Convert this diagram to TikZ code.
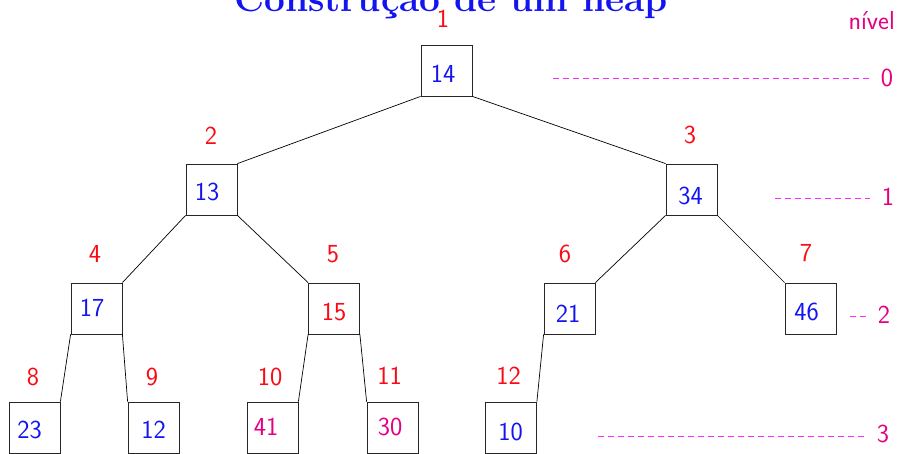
\documentclass[tikz,border=0pt]{standalone}
\usepackage{fontspec}
\definecolor{tblue}{RGB}{20,20,240}
\definecolor{tred}{RGB}{250,10,20}
\definecolor{tpink}{RGB}{228,0,128}
\definecolor{tdash}{RGB}{255,40,255}
\tikzset{
  box/.style={draw=black!85, line width=0.8pt, minimum size=51pt, inner sep=0pt},
  num/.style={inner sep=0pt, font=\sffamily\fontsize{26}{28}\selectfont},
  idx/.style={num, text=tred},
  lvl/.style={num, text=tpink},
  edge/.style={line width=0.7pt},
  lvline/.style={tdash, line width=1pt, dash pattern=on 6pt off 4pt},
}
\begin{document}
\begin{tikzpicture}[x=1pt,y=-1pt]
\useasboundingbox (0,0) rectangle (897,453);
% title
\node[anchor=base, inner sep=0pt, text=tblue, font=\rmfamily\bfseries\fontsize{37}{40}\selectfont] (title) at (451,11.5) {Construção de um heap};
% boxes
\node[box] (b1) at (446.5,70.5) {};
\node[box] (b2) at (211.5,189.5) {};
\node[box] (b3) at (691.5,189.5) {};
\node[box] (b4) at (96.5,308.5) {};
\node[box] (b5) at (334,308.5) {};
\node[box] (b6) at (569.5,308.5) {};
\node[box] (b7) at (810.5,308.5) {};
\node[box] (b8) at (34.5,427.5) {};
\node[box] (b9) at (153.5,427.5) {};
\node[box] (b10) at (272.5,427.5) {};
\node[box] (b11) at (392.5,427.5) {};
\node[box] (b12) at (511,427.5) {};
% values
\node[num, text=tblue] (t1) at (443,74) {14};
\node[num, text=tblue] (t2) at (207,192) {13};
\node[num, text=tblue] (t3) at (690.5,195.5) {34};
\node[num, text=tblue] (t4) at (92,308) {17};
\node[num, text=tred] (t5) at (334,312) {15};
\node[num, text=tblue] (t6) at (568,313.5) {21};
\node[num, text=tblue] (t7) at (806.5,311.5) {46};
\node[num, text=tblue] (t8) at (29.5,430) {23};
\node[num, text=tblue] (t9) at (153.5,430) {12};
\node[num, text=tpink] (t10) at (266,426.5) {41};
\node[num, text=tpink] (t11) at (390,427) {30};
\node[num, text=tblue] (t12) at (510.5,431.5) {10};
% indices
\node[idx] (i1) at (443,19) {1};
\node[idx] (i2) at (211,135.5) {2};
\node[idx] (i3) at (690,135) {3};
\node[idx] (i4) at (95,254) {4};
\node[idx] (i5) at (333,254) {5};
\node[idx] (i6) at (565,254) {6};
\node[idx] (i7) at (806,253.5) {7};
\node[idx] (i8) at (33,377) {8};
\node[idx] (i9) at (152,377) {9};
\node[idx] (i10) at (270,376.5) {10};
\node[idx] (i11) at (389.5,376) {11};
\node[idx] (i12) at (508.5,376) {12};
% edges
\draw[edge] (b1.south west) -- (b2.north east);
\draw[edge] (b1.south east) -- (b3.north west);
\draw[edge] (b2.south west) -- (b4.north east);
\draw[edge] (b2.south east) -- (b5.north west);
\draw[edge] (b3.south west) -- (b6.north east);
\draw[edge] (b3.south east) -- (b7.north west);
\draw[edge] (b4.south west) -- (b8.north east);
\draw[edge] (b4.south east) -- (b9.north west);
\draw[edge] (b5.south west) -- (b10.north east);
\draw[edge] (b5.south east) -- (b11.north west);
\draw[edge] (b6.south west) -- (b12.north east);
% levels
\node[lvl, anchor=base east] (niv) at (895,29.3) {nível};
\node[lvl] (l0) at (887,77.5) {0};
\node[lvl] (l1) at (888,196.5) {1};
\node[lvl] (l2) at (884,314.5) {2};
\node[lvl] (l3) at (883,433.5) {3};
\coordinate (d0) at (553,78);
\coordinate (d1) at (775,198);
\coordinate (d2) at (850,316.5);
\coordinate (d3) at (598,436);
\draw[lvline] (d0) -- ([xshift=-12pt]l0.west |- d0);
\draw[lvline] (d1) -- ([xshift=-12pt]l1.west |- d1);
\draw[lvline] (d2) -- ([xshift=-8pt]l2.west |- d2);
\draw[lvline] (d3) -- ([xshift=-10pt]l3.west |- d3);
\end{tikzpicture}
\end{document}
